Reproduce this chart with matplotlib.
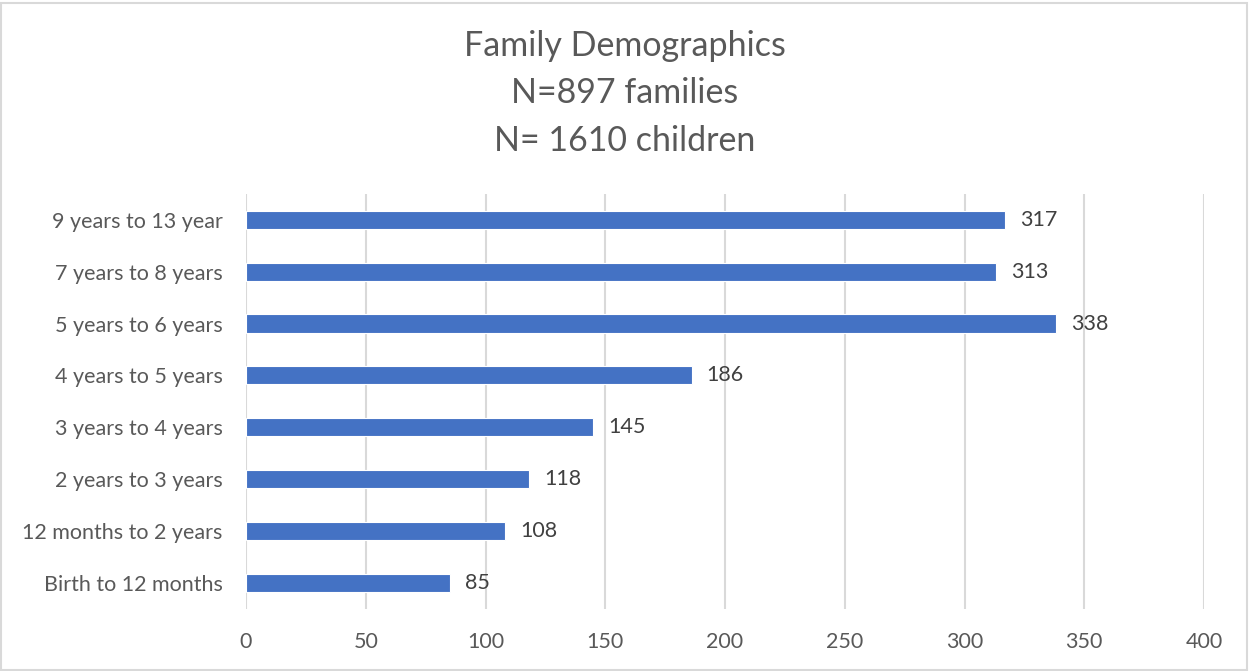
import numpy as np
import matplotlib.pyplot as plt
from matplotlib.patches import Rectangle

plt.rcParams['font.family'] = ['Lato', 'DejaVu Sans']

categories = ["Birth to 12 months", "12 months to 2 years", "2 years to 3 years",
              "3 years to 4 years", "4 years to 5 years", "5 years to 6 years",
              "7 years to 8 years", "9 years to 13 year"]
counts = [85, 108, 118, 145, 186, 338, 313, 317]
xticks = [0, 50, 100, 150, 200, 250, 300, 350, 400]

fig = plt.figure(figsize=(12.49, 6.71), dpi=100)
ax = fig.add_axes([0.197, 0.093, 0.767, 0.618])

y = np.arange(len(categories))
ax.barh(y, counts, height=0.35, color='#4472C4', edgecolor='white', linewidth=0.8, zorder=3)
for i, v in enumerate(counts):
    ax.annotate(str(v), (v, i), textcoords="offset points", xytext=(11, 0),
                ha='left', va='center', fontsize=15.5, color='#404040')

ax.set_xlim(0, 400)
ax.set_ylim(-0.5, len(categories) - 0.5)
ax.set_xticks(xticks)
ax.set_yticks(y)
ax.set_yticklabels(categories)
ax.tick_params(axis='both', length=0, labelsize=15.5, labelcolor='#595959')
ax.tick_params(axis='x', pad=17)
ax.tick_params(axis='y', pad=17)
ax.grid(axis='x', color='#D9D9D9', linewidth=1.5, zorder=0)
for s in ax.spines.values():
    s.set_visible(False)

fig.text(0.5, 0.861, "Family Demographics\nN=897 families\nN= 1610 children",
         ha='center', va='center', fontsize=24.5, color='#595959', linespacing=1.6)

fig.patches.append(Rectangle((0.001, 0.001), 0.997, 0.994, transform=fig.transFigure,
                             fill=False, edgecolor='#D9D9D9', linewidth=1.5))

fig.savefig("out.png", dpi=100)
